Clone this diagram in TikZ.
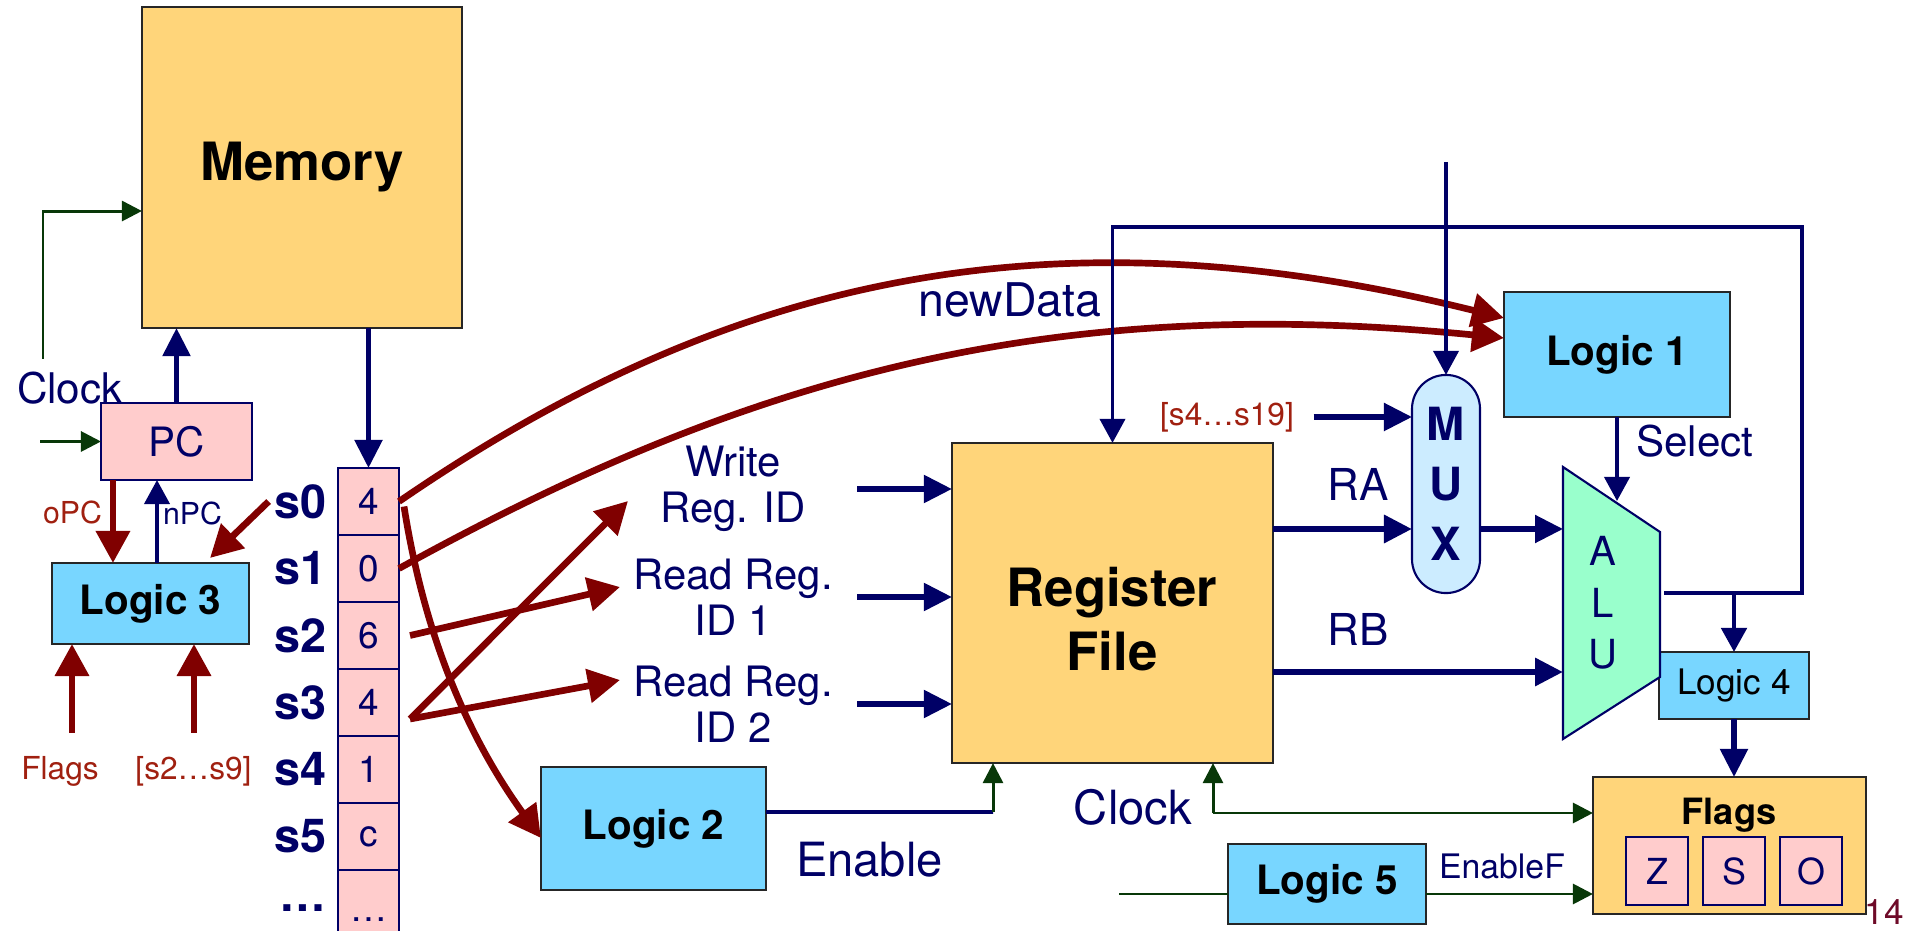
\documentclass[tikz,border=0pt]{standalone}
\usepackage{fontspec}
\setmainfont{TeX Gyre Heros}
\usepackage{tikz}
\usetikzlibrary{arrows.meta}

\definecolor{navy}{RGB}{0,0,102}
\definecolor{wire}{RGB}{128,0,0}
\definecolor{sigred}{RGB}{160,32,16}
\definecolor{clk}{RGB}{8,56,8}
\definecolor{block}{RGB}{255,213,122}
\definecolor{logic}{RGB}{120,214,255}
\definecolor{cell}{RGB}{255,204,204}
\definecolor{muxfill}{RGB}{204,236,255}
\definecolor{alufill}{RGB}{153,255,204}
\definecolor{pagenum}{RGB}{110,10,40}

\newcommand{\sz}[2]{\fontsize{#1}{#2}\selectfont}

\begin{document}
\begin{tikzpicture}[x=0.01cm, y=-0.01cm]
        \tikzset{
            BoxStyle/.style={draw=black!85, line width=0.5pt, inner sep=0pt, outer sep=0pt},
            BlockStyle/.style={BoxStyle, fill=block},
            LogicStyle/.style={BoxStyle, fill=logic, font=\bfseries\sz{11.5}{13}},
            CellStyle/.style={draw=navy, line width=0.5pt, fill=cell, text=navy, inner sep=0pt, outer sep=0pt, font=\sz{10.5}{12}},
            RegName/.style={text=navy, inner sep=0pt, font=\bfseries\sz{13.3}{15}},
            NavyText/.style={text=navy, inner sep=0pt},
            RedText/.style={text=sigred, inner sep=0pt, font=\sz{9}{11}},
            BusArrow/.style={draw=navy, line width=1.5pt, -{Triangle[length=0.28cm, width=0.27cm]}},
            ThinArrow/.style={draw=navy, line width=1.1pt, -{Triangle[length=0.24cm, width=0.25cm]}},
            RedArrow/.style={draw=wire, line width=1.9pt, -{Triangle[length=0.32cm, width=0.33cm]}},
            ClkArrow/.style={draw=clk, line width=0.85pt, -{Triangle[length=0.2cm, width=0.2cm]}}
        }
        \useasboundingbox (0,0) rectangle (1912,931);

        \node[BlockStyle, minimum width=3.2cm, minimum height=3.21cm, font=\bfseries\sz{15}{18}] (mem) at (302,167.5) {Memory};
        \node[CellStyle, minimum width=1.51cm, minimum height=0.77cm, font=\sz{11.5}{13}] (pc) at (176.5,441.5) {PC};
        \node[LogicStyle, minimum width=1.97cm, minimum height=0.81cm] (l3) at (150.5,603.5) {Logic 3};

        \node[CellStyle, minimum width=0.61cm, minimum height=0.67cm] (c0) at (368.5,501.5) {4};
        \node[CellStyle, minimum width=0.61cm, minimum height=0.67cm] (c1) at (368.5,568.5) {0};
        \node[CellStyle, minimum width=0.61cm, minimum height=0.67cm] (c2) at (368.5,635.5) {6};
        \node[CellStyle, minimum width=0.61cm, minimum height=0.67cm] (c3) at (368.5,702.5) {4};
        \node[CellStyle, minimum width=0.61cm, minimum height=0.67cm] (c4) at (368.5,769.5) {1};
        \node[CellStyle, minimum width=0.61cm, minimum height=0.67cm] (c5) at (368.5,836.5) {c};
        \node[CellStyle, minimum width=0.61cm, minimum height=0.67cm] (c6) at (368.5,903.5) {};
        \node[NavyText, font=\sz{10.5}{12}] (c6dots) at (369,920) {…};

        \node[RegName, anchor=east] (s0) at (327,501.5) {s0};
        \node[RegName, anchor=east] (s1) at (327,568.5) {s1};
        \node[RegName, anchor=east] (s2) at (327,635.5) {s2};
        \node[RegName, anchor=east] (s3) at (327,702.5) {s3};
        \node[RegName, anchor=east] (s4) at (327,769.5) {s4};
        \node[RegName, anchor=east] (s5) at (327,836.5) {s5};
        \node[RegName] (sdots) at (303,908) {…};

        \node[BlockStyle, minimum width=3.21cm, minimum height=3.2cm] (reg) at (1112.5,603) {};
        \node[inner sep=0pt, align=center, font=\bfseries\sz{15}{18}] (regtxt) at (1112,619) {Register\\File};
        \node[LogicStyle, minimum width=2.25cm, minimum height=1.23cm] (l2) at (653.5,828.5) {Logic 2};
        \node[LogicStyle, minimum width=2.26cm, minimum height=1.25cm] (l1) at (1617,354.5) {Logic 1};
        \node[BoxStyle, fill=logic, minimum width=1.5cm, minimum height=0.67cm, font=\sz{10}{12}] (l4) at (1734,685.5) {Logic 4};
        \node[LogicStyle, minimum width=1.98cm, minimum height=0.8cm] (l5) at (1327,884) {Logic 5};
        \node[BlockStyle, minimum width=2.73cm, minimum height=1.37cm] (flags) at (1729.5,845.5) {};
        \node[inner sep=0pt, font=\bfseries\sz{10.3}{12}] (flagtxt) at (1729,815) {Flags};
        \node[CellStyle, minimum width=0.62cm, minimum height=0.68cm, font=\sz{10.2}{12}] (fz) at (1657,871) {Z};
        \node[CellStyle, minimum width=0.62cm, minimum height=0.68cm, font=\sz{10.2}{12}] (fs) at (1734,871) {S};
        \node[CellStyle, minimum width=0.62cm, minimum height=0.68cm, font=\sz{10.2}{12}] (fo) at (1811,871) {O};

        \node[draw=navy, fill=muxfill, line width=0.6pt, rounded corners=0.34cm, minimum width=0.68cm, minimum height=2.18cm, inner sep=0pt, outer sep=0pt, align=center, text=navy, font=\bfseries\sz{13}{17}] (mux) at (1446,484) {M\\U\\X};

        \coordinate (aluTL) at (1563,467);
        \coordinate (aluTR) at (1660,532);
        \coordinate (aluBR) at (1660,677);
        \coordinate (aluBL) at (1563,739);
        \draw[draw=navy, fill=alufill, line width=0.6pt] (aluTL) -- (aluTR) -- (aluBR) -- (aluBL) -- cycle;
        \node[NavyText, align=center, font=\sz{11.4}{14.6}] (alutxt) at (1603,603) {A\\L\\U};

        \node[NavyText, font=\sz{12}{14}] (clktop) at (70,388) {Clock};
        \node[RedText, font=\sz{8.6}{10}] (opclbl) at (72.5,512.5) {oPC};
        \node[NavyText, font=\sz{8.6}{10}] (npclbl) at (192.5,513) {nPC};
        \node[RedText] (flaglbl) at (60,771) {Flags};
        \node[RedText] (range1) at (193.5,771) {[s2…s9]};
        \node[NavyText, align=center, font=\sz{11.9}{13.1}] (wid) at (733,489) {Write\\Reg. ID};
        \node[NavyText, align=center, font=\sz{11.9}{13.1}] (rid1) at (733,597) {Read Reg.\\ID 1};
        \node[NavyText, align=center, font=\sz{11.9}{13.1}] (rid2) at (733,704) {Read Reg.\\ID 2};
        \node[NavyText, font=\sz{13.2}{15}] (newdata) at (1010,300) {newData};
        \node[RedText] (range2) at (1227,417) {[s4…s19]};
        \node[NavyText, font=\sz{12.5}{14}] (ralbl) at (1358,484) {RA};
        \node[NavyText, font=\sz{12.5}{14}] (rblbl) at (1358,629) {RB};
        \node[NavyText, font=\sz{12}{14}] (sellbl) at (1695,441) {Select};
        \node[NavyText, font=\sz{13.4}{15}] (enlbl) at (869.5,860) {Enable};
        \node[NavyText, font=\sz{13.4}{15}] (clkbot) at (1133,807) {Clock};
        \node[NavyText, font=\sz{9.6}{11}] (enflbl) at (1502,866) {EnableF};
        \node[inner sep=0pt, text=pagenum, font=\sz{10}{12}] (pgno) at (1884,912) {14};

        \coordinate (clkmem) at (43,359);
        \draw[ClkArrow] (clkmem) |- ([yshift=-0.435cm]mem.west);
        \coordinate (clkpc) at (40,441.5);
        \draw[ClkArrow] (clkpc) -- (pc.west);
        \draw[BusArrow] (pc.north) -- (pc.north |- mem.south);
        \coordinate (opc) at ([xshift=0.12cm]pc.south west);
        \draw[RedArrow] (opc) -- (opc |- l3.north);
        \coordinate (npc) at ([xshift=0.065cm]l3.north);
        \draw[ThinArrow] (npc) -- (npc |- pc.south);
        \draw[RedArrow] ([xshift=-0.05cm]s0.west) -- ([xshift=-0.39cm,yshift=0.05cm]l3.north east);
        \coordinate (flagsrc) at (72,733);
        \coordinate (rangesrc) at (194,733);
        \draw[RedArrow] (flagsrc) -- (flagsrc |- l3.south);
        \draw[RedArrow] (rangesrc) -- (rangesrc |- l3.south);
        \draw[BusArrow] (mem.south -| c0.north) -- (c0.north);

        \draw[RedArrow] (c0.east) .. controls (730,274) and (1053,206) .. ([yshift=0.365cm]l1.west);
        \draw[RedArrow] (c1.east) .. controls (749,375) and (1053,293) .. ([yshift=0.165cm]l1.west);
        \draw[RedArrow] ([xshift=0.05cm,yshift=-0.05cm]c0.east) .. controls (425,640) and (470,740) .. ([yshift=-0.095cm]l2.west);
        \coordinate (wtip) at (628,501);
        \coordinate (r1tip) at (620,587);
        \coordinate (r2tip) at (620,680);
        \draw[RedArrow] ([xshift=0.11cm]c2.east) -- (r1tip);
        \draw[RedArrow] ([xshift=0.11cm,yshift=-0.165cm]c3.east) -- (wtip);
        \draw[RedArrow] ([xshift=0.11cm,yshift=-0.165cm]c3.east) -- (r2tip);

        \coordinate (regin) at (857,0);
        \draw[BusArrow] (regin |- wid) -- (reg.west |- wid);
        \draw[BusArrow] (regin |- rid1) -- (reg.west |- rid1);
        \draw[BusArrow] (regin |- rid2) -- (reg.west |- rid2);

        \coordinate (aluout) at (1664,593);
        \coordinate (fbcorner) at (1802,227);
        \draw[ThinArrow] (aluout) -| (fbcorner) -| (reg.north);
        \draw[ThinArrow, line width=1.4pt] (aluout -| l4.north) -- (l4.north);
        \coordinate (muxsrc) at (1446,162);
        \draw[ThinArrow] (muxsrc) -- (mux.north);
        \draw[BusArrow] ([xshift=0.19cm]range2.east) -- (range2.east -| mux.west);
        \coordinate (ra) at (1273,529);
        \draw[BusArrow, line width=1.8pt] (ra) -- (ra -| mux.west);
        \draw[BusArrow] (ra -| mux.east) -- (ra -| aluTL);
        \coordinate (rb) at (1273,672);
        \draw[BusArrow, line width=1.8pt] (rb) -- (rb -| aluTL);
        \coordinate (alusel) at (1617,501);
        \draw[ThinArrow] (l1.south) -- (alusel);
        \draw[BusArrow] (l4.south) -- (l4.south |- flags.north);

        \coordinate (encorner) at (993,812);
        \draw[navy, line width=1.1pt] ([yshift=0.165cm]l2.east) -- (encorner);
        \draw[ClkArrow] (encorner) -- (encorner |- reg.south);
        \coordinate (clkreg) at (1213,813);
        \draw[ClkArrow] (clkreg) -- (clkreg |- reg.south);
        \draw[ClkArrow] (clkreg) -- (clkreg -| flags.west);
        \coordinate (l5src) at (1119,894);
        \draw[clk, line width=0.85pt] (l5src) -- (l5src -| l5.west);
        \draw[ClkArrow] (l5.east |- l5src) -- (l5src -| flags.west);
\end{tikzpicture}
\end{document}
